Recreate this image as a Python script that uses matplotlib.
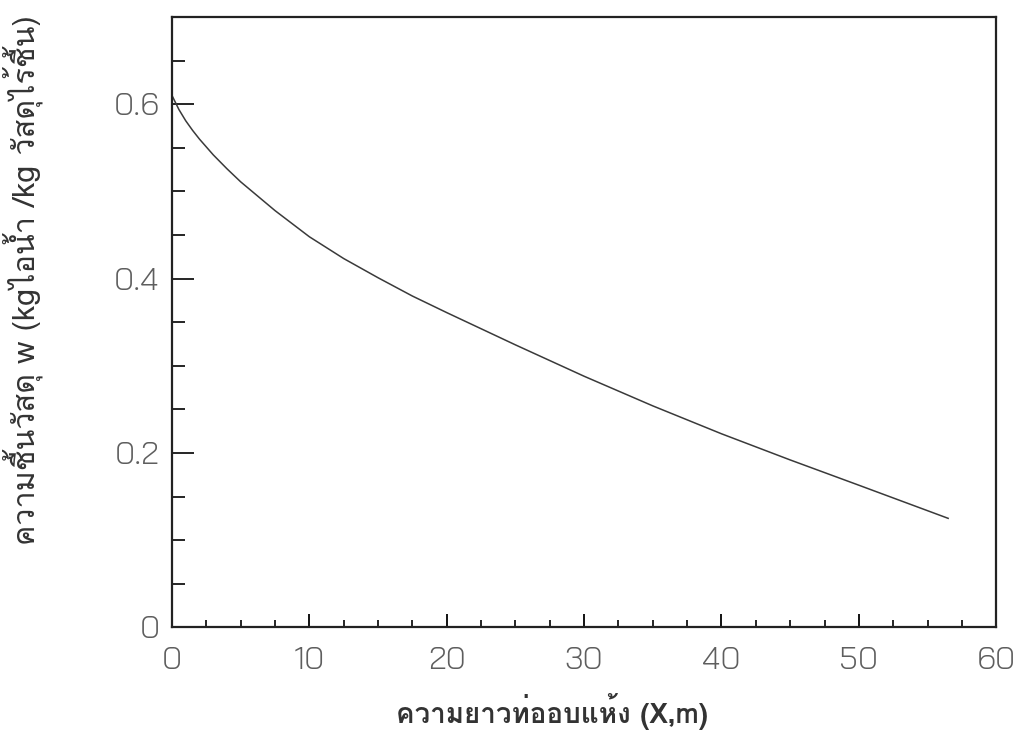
import matplotlib
matplotlib.use("Agg")
from matplotlib import pyplot as plt
from matplotlib import font_manager
from matplotlib.ft2font import FT2Font
from matplotlib.ticker import MultipleLocator

# drying tube length (m)
length_m = [0, 0.5, 1, 1.5, 2, 3, 4, 5, 7.5, 10, 12.5, 15, 17.5, 20,
            25, 30, 35, 40, 45, 50, 56.5]
# moisture content w (kg water / kg dry solid)
moisture = [0.610, 0.594, 0.581, 0.570, 0.560, 0.542, 0.526, 0.511, 0.478, 0.448,
            0.423, 0.401, 0.380, 0.361, 0.324, 0.288, 0.254, 0.222, 0.192, 0.163, 0.125]

x_ticks = [0, 10, 20, 30, 40, 50, 60]
y_ticks = [0, 0.2, 0.4, 0.6]
y_tick_labels = ["0", "0.2", "0.4", "0.6"]

x_label = "ความยาวท่ออบแห้ง (X,m)"
y_label = "ความชื้นวัสดุ w (kgไอน้ำ /kg วัสดุไร้ชื้น)"

# register every font that has Thai glyphs so family names resolve
thai_names = []
for f in font_manager.findSystemFonts():
    try:
        if 0x0E01 in FT2Font(f).get_charmap():
            font_manager.fontManager.addfont(f)
            thai_names.append(font_manager.FontProperties(fname=f).get_name())
    except Exception:
        pass

# a typewriter-like Thai face if there is one, else Loma
mono = [n for n in thai_names if any(k in n for k in ("Typo", "Typist", "Mono"))
        and "Unifont" not in n]
label_family = mono[:1] + ["Loma", "DejaVu Sans"]
tick_family = ["Bai Jamjuree", "DejaVu Sans"]

fig = plt.figure(figsize=(10.15, 7.45), dpi=100)
ax = fig.add_axes([0.1695, 0.158, 0.812, 0.819])

ax.plot(length_m, moisture, color="#3a3a3a", linewidth=1.1)

ax.set_xlim(0, 60)
ax.set_ylim(0, 0.7)
ax.set_xticks(x_ticks)
ax.set_yticks(y_ticks)
ax.set_yticklabels(y_tick_labels)
ax.xaxis.set_minor_locator(MultipleLocator(2.5))
ax.yaxis.set_minor_locator(MultipleLocator(0.05))

ax.tick_params(axis="x", which="major", direction="in", length=9.5, width=1.3,
               pad=14, labelsize=23, labelcolor="#5e5e5e")
ax.tick_params(axis="x", which="minor", direction="in", length=5, width=1.2)
ax.tick_params(axis="y", which="major", direction="in", length=16, width=1.2,
               pad=9, labelsize=23, labelcolor="#5e5e5e")
ax.tick_params(axis="y", which="minor", direction="in", length=9, width=1.2)

for lab in ax.get_xticklabels() + ax.get_yticklabels():
    lab.set_family(tick_family)
    lab.set_fontweight(300)

for sp in ax.spines.values():
    sp.set_linewidth(1.6)
    sp.set_color("#222222")

ax.set_xlabel(x_label, family=label_family, fontsize=20, fontweight="bold",
              color="#333333")
ax.xaxis.set_label_coords(0.461, -0.108)
ax.set_ylabel(y_label, family=label_family, fontsize=22, color="#333333")
ax.yaxis.set_label_coords(-0.157, 0.569)

fig.savefig("out.png", dpi=100)
